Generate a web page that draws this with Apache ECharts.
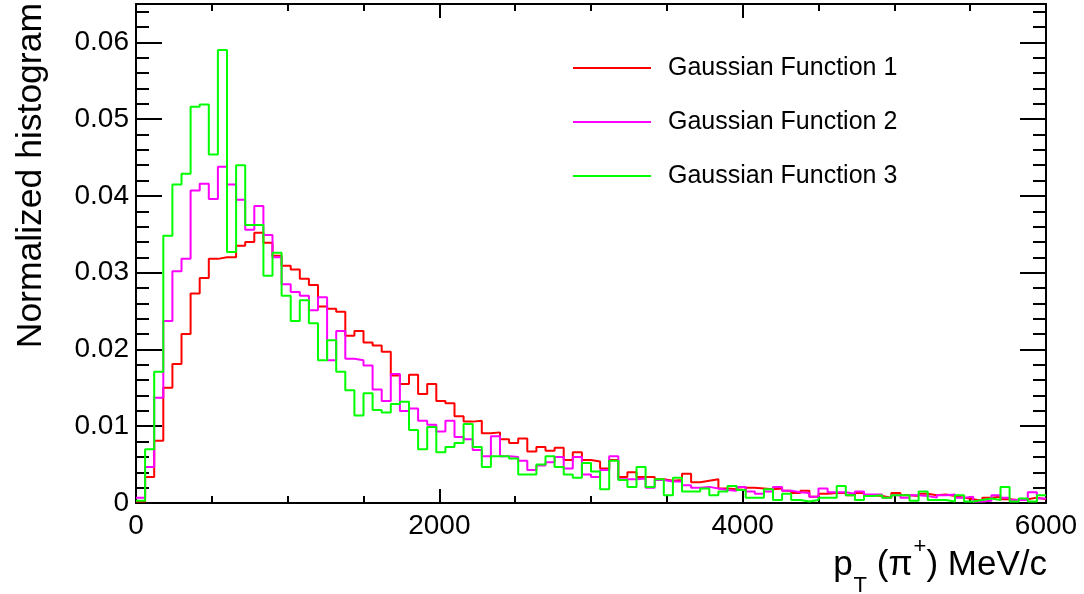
<!DOCTYPE html>
<html>
<head>
<meta charset="utf-8">
<script src="https://cdn.jsdelivr.net/npm/echarts@6/dist/echarts.min.js"></script>
<style>
html,body{margin:0;padding:0;background:#ffffff;}
#chart{width:1084px;height:594px;}
</style>
</head>
<body>
<div id="chart"></div>
<script>
// ---- data (100 bins of 60 MeV/c from 0 to 6000) ----
const binWidth = 60;
const seriesNames = ['Gaussian Function 1', 'Gaussian Function 2', 'Gaussian Function 3'];
const seriesColors = ['#ff0000', '#ff00ff', '#00ff00'];

const gauss1 = [
  0.0002, 0.0034, 0.0081, 0.0150, 0.0181, 0.0220, 0.0273, 0.0293, 0.0318, 0.0320,
  0.0320, 0.0335, 0.0340, 0.0352, 0.0339, 0.0322, 0.0309, 0.0304, 0.0292, 0.0284,
  0.0256, 0.0253, 0.0249, 0.0218, 0.0224, 0.0209, 0.0205, 0.0197, 0.0166, 0.0155,
  0.0167, 0.0142, 0.0155, 0.0133, 0.0130, 0.0113, 0.0106, 0.0107, 0.0091, 0.0092,
  0.0083, 0.0078, 0.0084, 0.0067, 0.0073, 0.0068, 0.0072, 0.0056, 0.0066, 0.0056,
  0.0054, 0.0045, 0.0056, 0.0034, 0.0040, 0.0034, 0.0034, 0.0031, 0.0029, 0.0030,
  0.0038, 0.0027, 0.0029, 0.0031, 0.0019, 0.0018, 0.0017, 0.0020, 0.0019, 0.0018,
  0.0019, 0.0016, 0.0013, 0.0016, 0.0008, 0.0012, 0.0013, 0.0013, 0.0010, 0.0013,
  0.0010, 0.0009, 0.0007, 0.0013, 0.0010, 0.0009, 0.0012, 0.0010, 0.0011, 0.0009,
  0.0007, 0.0005, 0.0003, 0.0007, 0.0008, 0.0005, 0.0004, 0.0005, 0.0007, 0.0005
];
const gauss2 = [
  0.0007, 0.0047, 0.0137, 0.0237, 0.0302, 0.0318, 0.0407, 0.0416, 0.0396, 0.0438,
  0.0415, 0.0395, 0.0356, 0.0387, 0.0349, 0.0320, 0.0285, 0.0275, 0.0270, 0.0251,
  0.0268, 0.0186, 0.0224, 0.0188, 0.0186, 0.0179, 0.0148, 0.0133, 0.0168, 0.0120,
  0.0123, 0.0107, 0.0102, 0.0093, 0.0107, 0.0086, 0.0083, 0.0069, 0.0061, 0.0087,
  0.0061, 0.0060, 0.0055, 0.0043, 0.0049, 0.0053, 0.0060, 0.0045, 0.0060, 0.0037,
  0.0034, 0.0043, 0.0061, 0.0031, 0.0031, 0.0032, 0.0020, 0.0030, 0.0028, 0.0028,
  0.0023, 0.0020, 0.0021, 0.0019, 0.0017, 0.0016, 0.0021, 0.0015, 0.0012, 0.0015,
  0.0021, 0.0016, 0.0014, 0.0013, 0.0008, 0.0019, 0.0014, 0.0014, 0.0012, 0.0015,
  0.0011, 0.0011, 0.0007, 0.0010, 0.0007, 0.0010, 0.0009, 0.0007, 0.0010, 0.0011,
  0.0007, 0.0008, 0.0002, 0.0003, 0.0010, 0.0007, 0.0004, 0.0004, 0.0014, 0.0006
];
const gauss3 = [
  0.0003, 0.0070, 0.0171, 0.0348, 0.0415, 0.0429, 0.0516, 0.0519, 0.0454, 0.0590,
  0.0327, 0.0440, 0.0362, 0.0362, 0.0296, 0.0326, 0.0270, 0.0237, 0.0264, 0.0234,
  0.0186, 0.0212, 0.0171, 0.0147, 0.0114, 0.0143, 0.0121, 0.0118, 0.0129, 0.0132,
  0.0095, 0.0070, 0.0099, 0.0066, 0.0073, 0.0078, 0.0103, 0.0073, 0.0047, 0.0061,
  0.0061, 0.0058, 0.0037, 0.0037, 0.0050, 0.0061, 0.0047, 0.0037, 0.0033, 0.0052,
  0.0041, 0.0018, 0.0055, 0.0030, 0.0021, 0.0047, 0.0021, 0.0031, 0.0010, 0.0033,
  0.0015, 0.0015, 0.0019, 0.0010, 0.0015, 0.0022, 0.0017, 0.0007, 0.0007, 0.0018,
  0.0004, 0.0012, 0.0004, 0.0002, 0.0004, 0.0007, 0.0007, 0.0022, 0.0010, 0.0004,
  0.0009, 0.0010, 0.0007, 0.0010, 0.0010, 0.0003, 0.0015, 0.0004, 0.0004, 0.0002,
  0.0010, 0.0002, 0.0004, 0.0006, 0.0004, 0.0021, 0.0002, 0.0006, 0.0002, 0.0010
];

const xTicks = [0, 2000, 4000, 6000];
const xTickLabels = ['0', '2000', '4000', '6000'];
const yTicks = [0, 0.01, 0.02, 0.03, 0.04, 0.05, 0.06];
const yTickLabels = ['0', '0.01', '0.02', '0.03', '0.04', '0.05', '0.06'];
const yMax = 0.065;
const yMinorStep = 0.002;
const xMinorSplit = 4;
const yTitle = 'Normalized histogram';
// x title pieces: [text, kind]  kind: n = normal, sub = subscript, sup = superscript
const xTitleParts = [['p', 'n'], ['T', 'sub'], [' (π', 'n'], ['+', 'sup'], [') MeV/c', 'n']];

// ---- build chart ----
const FONT = '"Liberation Sans", Arial, Helvetica, sans-serif';
const black = '#000000';

function toSteps(vals) {
  const d = vals.map((v, i) => [i * binWidth, v]);
  d.push([vals.length * binWidth, vals[vals.length - 1]]);
  return d;
}
function labelFor(ticks, labels) {
  return function (v) {
    for (let i = 0; i < ticks.length; i++) {
      if (Math.abs(v - ticks[i]) < 1e-9 * Math.max(1, Math.abs(ticks[i])) + 1e-12) return labels[i];
    }
    return '';
  };
}

function xAxisDef(pos, showLabel) {
  return {
    type: 'value', position: pos,
    min: xTicks[0], max: xTicks[xTicks.length - 1], interval: xTicks[1] - xTicks[0],
    axisLine: { show: true, onZero: false, lineStyle: { color: black, width: 2 } },
    axisTick: { show: true, inside: true, length: 14, lineStyle: { color: black, width: 2 } },
    minorTick: { show: true, splitNumber: xMinorSplit, length: 7, lineStyle: { color: black, width: 2 } },
    axisLabel: { show: showLabel, color: black, fontSize: 28, fontFamily: FONT, margin: 9,
                 formatter: labelFor(xTicks, xTickLabels) },
    splitLine: { show: false }, minorSplitLine: { show: false }
  };
}
function yAxisDef(pos, showLabel, interval, tickLen, showLine) {
  return {
    type: 'value', position: pos,
    min: 0, max: yMax, interval: interval,
    axisLine: { show: showLine, onZero: false, lineStyle: { color: black, width: 2 } },
    axisTick: { show: true, inside: true, length: tickLen, lineStyle: { color: black, width: 2 } },
    axisLabel: { show: showLabel, color: black, fontSize: 28, fontFamily: FONT, margin: 7,
                 showMaxLabel: false, formatter: labelFor(yTicks, yTickLabels) },
    splitLine: { show: false }
  };
}

const dataSets = [gauss1, gauss2, gauss3];
const series = dataSets.map((vals, i) => ({
  name: seriesNames[i],
  type: 'line',
  step: 'end',
  xAxisIndex: 0, yAxisIndex: 0,
  symbol: 'none',
  showSymbol: false,
  lineStyle: { color: seriesColors[i], width: 2 },
  itemStyle: { color: seriesColors[i] },
  data: toSteps(vals),
  z: 2 + i
}));

// x-axis title laid out right-to-left from the plot's right edge, using measured text widths
const measureCtx = document.createElement('canvas').getContext('2d');
const mainSize = 35, smallSize = 22;
const titleRight = 1047, mainMid = 565, subMid = 586, supMid = 547;
const xTitleEls = [];
let cursor = titleRight;
for (let i = xTitleParts.length - 1; i >= 0; i--) {
  const [txt, kind] = xTitleParts[i];
  const size = kind === 'n' ? mainSize : smallSize;
  const font = size + 'px ' + FONT;
  measureCtx.font = font;
  const w = measureCtx.measureText(txt).width;
  const y = kind === 'n' ? mainMid : (kind === 'sub' ? subMid : supMid);
  xTitleEls.push({
    type: 'text', x: cursor, y: y,
    style: { text: txt, font: font, fill: black, align: 'right', verticalAlign: 'middle',
             textAlign: 'right', textVerticalAlign: 'middle' }
  });
  cursor -= w + (kind === 'n' ? 0 : 1);
}

const chart = echarts.init(document.getElementById('chart'), null, { renderer: 'canvas' });
chart.setOption({
  animation: false,
  backgroundColor: '#ffffff',
  textStyle: { fontFamily: FONT },
  grid: { left: 136, right: 38, top: 4, bottom: 91, containLabel: false },
  xAxis: [xAxisDef('bottom', true), xAxisDef('top', false)],
  yAxis: [
    yAxisDef('left', true, yTicks[1] - yTicks[0], 26, true),
    yAxisDef('right', false, yTicks[1] - yTicks[0], 26, true),
    yAxisDef('left', false, yMinorStep, 13, false),
    yAxisDef('right', false, yMinorStep, 13, false)
  ],
  legend: {
    show: true,
    orient: 'vertical', left: 568, top: 48,
    icon: 'rect',
    itemWidth: 78, itemHeight: 2, itemGap: 24,
    data: seriesNames,
    textStyle: { fontSize: 25, color: black, fontFamily: FONT, lineHeight: 30, padding: [0, 0, 0, 12] }
  },
  graphic: [
    {
      type: 'text', x: 31, y: 3, rotation: Math.PI / 2,
      style: {
        text: yTitle, font: '35.5px ' + FONT, fill: black,
        align: 'right', verticalAlign: 'middle', textAlign: 'right', textVerticalAlign: 'middle'
      }
    }
  ].concat(xTitleEls),
  series: series
});
</script>
</body>
</html>
